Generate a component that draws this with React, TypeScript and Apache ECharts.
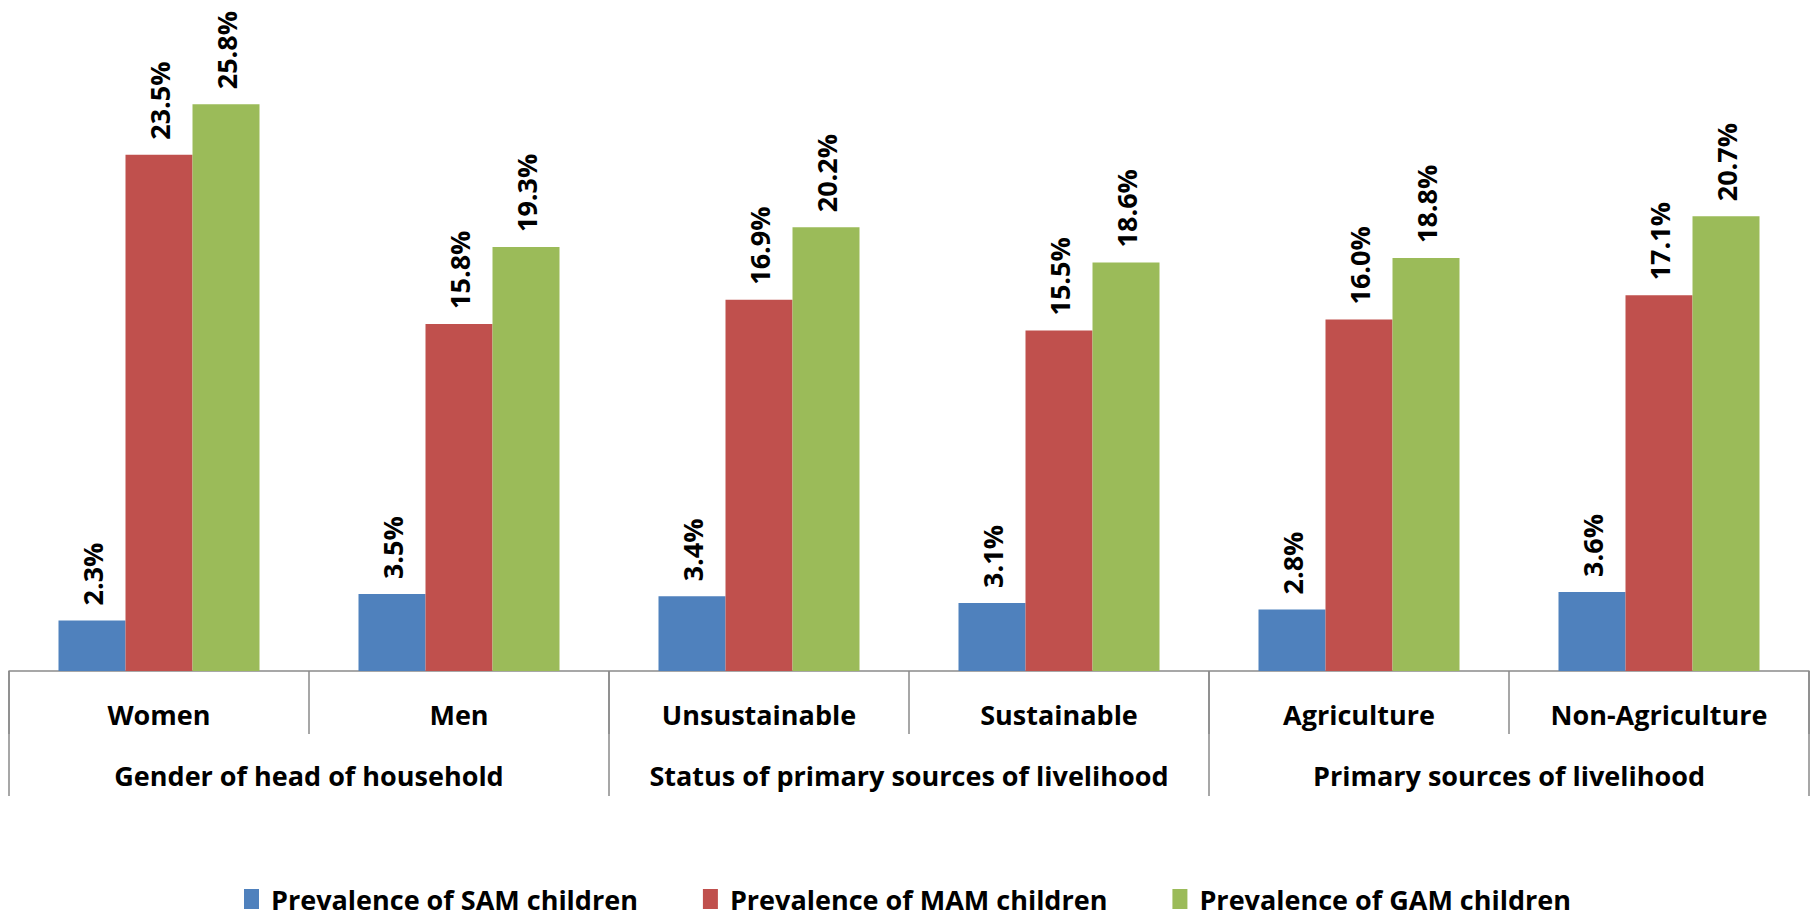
import React, { useEffect, useRef } from "react";
import * as echarts from "echarts";

const categories = ["Women", "Men", "Unsustainable", "Sustainable", "Agriculture", "Non-Agriculture"];
const groups = [
  "Gender of head of household",
  "Status of primary sources of livelihood",
  "Primary sources of livelihood",
];
const seriesNames = ["Prevalence of SAM children", "Prevalence of MAM children", "Prevalence of GAM children"];
const samValues = [2.3, 3.5, 3.4, 3.1, 2.8, 3.6];
const mamValues = [23.5, 15.8, 16.9, 15.5, 16.0, 17.1];
const gamValues = [25.8, 19.3, 20.2, 18.6, 18.8, 20.7];
const colors = ["#4F81BD", "#C0504D", "#9BBB59"];

const FONT = "'Open Sans', 'Noto Sans', sans-serif";

export default function App() {
  const ref = useRef<HTMLDivElement>(null);
  useEffect(() => {
    if (!ref.current) return;
    const chart = echarts.init(ref.current, undefined, { renderer: "svg" });
    const lineColor = "#8a8a8a";
    const mkSeries = (name: string, data: number[], color: string) => ({
      name,
      type: "bar",
      data,
      barGap: "0%",
      barCategoryGap: "33%",
      itemStyle: { color },
      label: {
        show: true,
        position: "top",
        rotate: 90,
        align: "left",
        verticalAlign: "middle",
        distance: 15,
        formatter: (p: any) => Number(p.value).toFixed(1) + "%",
        color: "#000",
        fontWeight: "bold",
        fontFamily: FONT,
        fontSize: 27,
      },
    });
    chart.setOption({
      animation: false,
      grid: { left: 9, right: 6, top: 12, bottom: 245, containLabel: false },
      legend: {
        data: seriesNames,
        left: "center",
        top: 879,
        itemWidth: 15,
        itemHeight: 20,
        itemGap: 65,
        icon: "rect",
        textStyle: {
          color: "#000",
          fontWeight: "bold",
          fontFamily: FONT,
          fontSize: 27,
          lineHeight: 30,
          padding: [0, 0, 0, 7],
        },
      },
      xAxis: [
        {
          type: "category",
          data: categories,
          position: "bottom",
          axisLine: { show: true, lineStyle: { color: lineColor, width: 1.5 } },
          axisTick: { show: true, interval: 0, length: 63, lineStyle: { color: lineColor, width: 1.5 } },
          axisLabel: {
            interval: 0,
            margin: 28,
            color: "#000",
            fontWeight: "bold",
            fontFamily: FONT,
            fontSize: 27,
            lineHeight: 30,
          },
        },
        {
          type: "category",
          data: groups,
          position: "bottom",
          axisLine: { show: false },
          axisTick: { show: true, interval: 0, length: 125, lineStyle: { color: lineColor, width: 1.5 } },
          axisLabel: {
            interval: 0,
            margin: 89,
            color: "#000",
            fontWeight: "bold",
            fontFamily: FONT,
            fontSize: 27,
            lineHeight: 30,
          },
        },
      ],
      yAxis: {
        type: "value",
        min: 0,
        max: 30,
        show: false,
        splitLine: { show: false },
      },
      series: [
        mkSeries(seriesNames[0], samValues, colors[0]),
        mkSeries(seriesNames[1], mamValues, colors[1]),
        mkSeries(seriesNames[2], gamValues, colors[2]),
      ],
    });
    return () => chart.dispose();
  }, []);
  return (
    <div
      ref={ref}
      style={{ position: "fixed", left: 0, top: 0, width: 1815, height: 916, background: "#fff" }}
    />
  );
}
